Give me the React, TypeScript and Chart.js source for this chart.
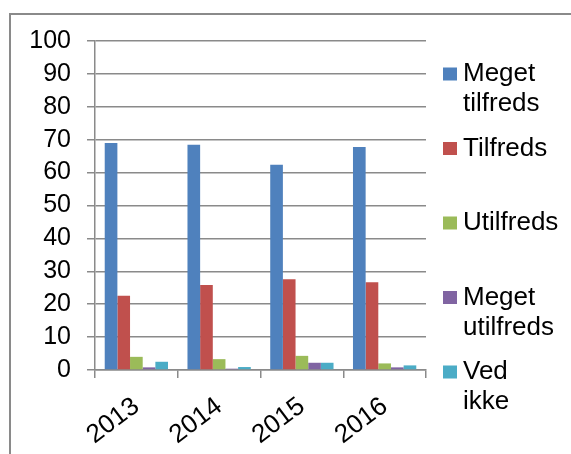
import React, { useEffect, useRef } from "react";
import { Chart, registerables } from "chart.js";

Chart.register(...registerables);

const categories = ["2013", "2014", "2015", "2016"];
const megetTilfreds = [69.0, 68.5, 62.4, 67.8];
const tilfreds = [22.6, 25.8, 27.6, 26.7];
const utilfreds = [4.0, 3.3, 4.3, 2.0];
const megetUtilfreds = [0.8, 0.4, 2.2, 0.8];
const vedIkke = [2.5, 0.9, 2.2, 1.4];
const seriesLabels = [["Meget", "tilfreds"], ["Tilfreds"], ["Utilfreds"], ["Meget", "utilfreds"], ["Ved", "ikke"]];
const seriesColors = ["#4F81BD", "#C0504D", "#9BBB59", "#8064A2", "#4BACC6"];
const yMin = 0;
const yMax = 100;
const yStep = 10;

const FONT = '"Liberation Sans", Arial, sans-serif';
const GRID = "#8a8a8a";

const framePlugin = {
  id: "frame",
  beforeDraw(chart: any) {
    const ctx = chart.ctx;
    ctx.save();
    ctx.strokeStyle = GRID;
    ctx.lineWidth = 2;
    ctx.strokeRect(10, 14, 1000, 1000);
    ctx.restore();
  },
};

const legendPlugin = {
  id: "customLegend",
  afterDraw(chart: any) {
    const ctx = chart.ctx;
    ctx.save();
    ctx.font = `26px ${FONT}`;
    ctx.textBaseline = "middle";
    ctx.textAlign = "left";
    chart.data.datasets.forEach((ds: any, i: number) => {
      const y0 = 74 + i * 74.5;
      ctx.fillStyle = ds.backgroundColor;
      ctx.fillRect(443, y0 - 6.5, 14, 13);
      ctx.fillStyle = "#000";
      const lines = seriesLabels[i];
      lines.forEach((line, j) => {
        ctx.fillText(line, 463, y0 + j * 30);
      });
    });
    ctx.restore();
  },
};

export default function App() {
  const ref = useRef<HTMLCanvasElement | null>(null);
  useEffect(() => {
    if (!ref.current) return;
    const values = [megetTilfreds, tilfreds, utilfreds, megetUtilfreds, vedIkke];
    const chart = new Chart(ref.current, {
      type: "bar",
      data: {
        labels: categories,
        datasets: values.map((v, i) => ({
          label: seriesLabels[i].join(" "),
          data: v,
          backgroundColor: seriesColors[i],
          borderWidth: 0,
          categoryPercentage: 0.765,
          barPercentage: 1,
        })),
      },
      options: {
        animation: false,
        responsive: true,
        maintainAspectRatio: false,
        devicePixelRatio: 1,
        layout: { padding: { top: 41, right: 145, left: 0, bottom: 0 } },
        plugins: {
          legend: { display: false },
          tooltip: { enabled: false },
        },
        scales: {
          x: {
            offset: true,
            grid: {
              offset: true,
              drawOnChartArea: false,
              drawTicks: true,
              tickLength: 8,
              color: GRID,
              lineWidth: 1.5,
            },
            border: { color: GRID, width: 1.5 },
            ticks: {
              color: "#000",
              font: { family: FONT, size: 26 },
              minRotation: 37,
              maxRotation: 37,
              padding: 13,
            },
            afterFit(scale: any) {
              scale.height = 84;
            },
          },
          y: {
            min: yMin,
            max: yMax,
            grid: {
              color: GRID,
              lineWidth: 1.5,
              drawTicks: true,
              tickLength: 8,
            },
            border: { color: GRID, width: 1.5 },
            ticks: {
              stepSize: yStep,
              autoSkip: false,
              color: "#000",
              font: { family: FONT, size: 25 },
              padding: 16,
            },
            afterFit(scale: any) {
              scale.width = 95;
            },
          },
        },
      },
      plugins: [framePlugin, legendPlugin],
    });
    return () => chart.destroy();
  }, []);
  return (
    <div style={{ position: "absolute", left: 0, top: 0, width: 571, height: 454 }}>
      <canvas ref={ref} style={{ display: "block" }} />
    </div>
  );
}
